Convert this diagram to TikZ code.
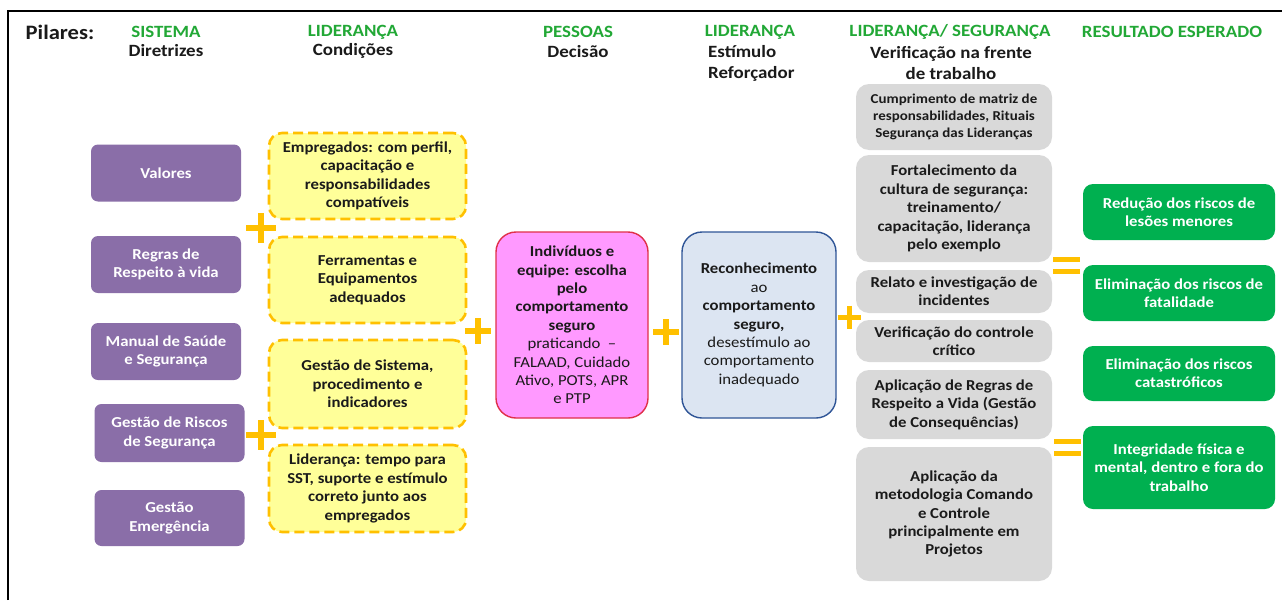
\documentclass[tikz,border=0pt]{standalone}
\usepackage{fontspec}
\setmainfont{Carlito}[FakeStretch=1.1]
\definecolor{purpc}{HTML}{8A6EA8}
\definecolor{yfill}{HTML}{FFFF99}
\definecolor{ybord}{HTML}{FFC000}
\definecolor{pinkf}{HTML}{FF99FF}
\definecolor{pinkb}{HTML}{E0304A}
\definecolor{bluef}{HTML}{DCE5F2}
\definecolor{blueb}{HTML}{2F5597}
\definecolor{grayf}{HTML}{D9D9D9}
\definecolor{greenf}{HTML}{00B050}
\definecolor{hgreen}{HTML}{22A836}
\definecolor{txt}{HTML}{1A1A1A}
\newcommand\plusmark[4]{\draw[ybord, line width=#4pt] (#1-#3/2,#2) -- (#1+#3/2,#2) (#1,#2-#3/2) -- (#1,#2+#3/2);}
\newcommand\eqmark[3]{\draw[ybord, line width=5pt] (#1,#2) -- (#1+27,#2) (#1,#3) -- (#1+27,#3);}
\begin{document}
\begin{tikzpicture}[x=1pt,y=-1pt,
  base/.style={align=center, inner sep=0pt, text=txt, font=\fontsize{15.2}{18.4}\selectfont\bfseries},
  purp/.style={base, fill=purpc, text=white, rounded corners=7pt, minimum width=150pt, minimum height=57pt},
  ybox/.style={base, fill=yfill, draw=ybord, line width=2.6pt, dash pattern=on 10pt off 5pt, rounded corners=13pt, minimum width=197pt},
  pbox/.style={base, fill=pinkf, draw=pinkb, line width=1.4pt, rounded corners=20pt, minimum width=152pt, minimum height=186pt},
  bbox/.style={base, fill=bluef, draw=blueb, line width=1.4pt, rounded corners=20pt, minimum width=154pt, minimum height=186pt},
  gbox/.style={base, fill=grayf, rounded corners=13pt, minimum width=196pt},
  grbox/.style={base, fill=greenf, text=white, rounded corners=10pt, minimum width=192pt},
  hg/.style={inner sep=0pt, text=hgreen, font=\fontsize{17.2}{20}\selectfont\bfseries},
  hb/.style={inner sep=0pt, text=txt, font=\fontsize{17.2}{21}\selectfont\bfseries},
]
\useasboundingbox (0,0) rectangle (1282,600);
\fill[white] (0,0) rectangle (1282,600);
\draw[line width=1.3pt] (8,600) -- (8,11) -- (1282,11);

% headers
\node[hb, font=\fontsize{20.5}{22}\selectfont\bfseries] (pil) at (60,32) {Pilares:};
\node[hg] (h1) at (166,32) {SISTEMA};
\node[hb] (h1b) at (166,51) {Diretrizes};
\node[hg] (h2) at (353,32) {LIDERANÇA};
\node[hb] (h2b) at (353,51) {Condições};
\node[hg] (h3) at (578,32) {PESSOAS};
\node[hb] (h3b) at (578,52) {Decisão};
\node[hg] (h4) at (750,32) {LIDERANÇA};
\node[hb, anchor=west, align=left] (h4b) at (708,63.5) {Estímulo\\Reforçador};
\node[hg] (h5) at (950,32) {LIDERANÇA/ SEGURANÇA};
\node[hb, align=center] (h5b) at (951,63.5) {Verificação na frente\\de trabalho};
\node[hg] (h6) at (1172,32) {RESULTADO ESPERADO};

% purple
\node[purp] (p1) at (166,173) {Valores};
\node[purp] (p2) at (166,264.5) {Regras de\\Respeito à vida};
\node[purp] (p3) at (166,351.5) {Manual de Saúde\\e Segurança};
\node[purp, minimum height=58pt] (p4) at (169.5,433) {Gestão de Riscos\\de Segurança};
\node[purp, minimum height=56pt] (p5) at (169.5,518) {Gestão\\Emergência};

% yellow
\node[ybox, minimum height=86pt] (y1) at (367.5,176) {Empregados: com perfil,\\capacitação e\\responsabilidades\\compatíveis};
\node[ybox, minimum height=86pt] (y2) at (367.5,280) {Ferramentas e\\Equipamentos\\adequados};
\node[ybox, minimum height=88pt] (y3) at (367.5,384) {Gestão de Sistema,\\procedimento e\\indicadores};
\node[ybox, minimum height=87pt] (y4) at (367.5,488.5) {Liderança: tempo para\\SST, suporte e estímulo\\correto junto aos\\empregados};

% pink and blue
\node[pbox] (pk) at (572,325) {Indivíduos e\\equipe: escolha\\pelo\\comportamento\\seguro\\{\mdseries praticando\ \ --}\\{\mdseries FALAAD, Cuidado}\\{\mdseries Ativo, POTS, APR}\\{\mdseries e PTP}};
\node[bbox] (bl) at (759,325) {Reconhecimento\\{\mdseries ao}\\comportamento\\seguro,\\{\mdseries desestímulo ao}\\{\mdseries comportamento}\\{\mdseries inadequado}};

% gray
\node[gbox, minimum height=66pt, font=\fontsize{13.6}{16.7}\selectfont\bfseries] (g1) at (954,117) {Cumprimento de matriz de\\responsabilidades, Rituais\\Segurança das Lideranças};
\node[gbox, minimum height=107pt] (g2) at (954,208.5) {Fortalecimento da\\cultura de segurança:\\treinamento/\\capacitação, liderança\\pelo exemplo};
\node[gbox, minimum height=43pt] (g3) at (954,291.5) {Relato e investigação de\\incidentes};
\node[gbox, minimum height=42pt] (g4) at (954,341) {Verificação do controle\\crítico};
\node[gbox, minimum height=69pt] (g5) at (954,404.5) {Aplicação de Regras de\\Respeito a Vida (Gestão\\de Consequências)};
\node[gbox, minimum height=134pt] (g6) at (954,514) {Aplicação da\\metodologia Comando\\e Controle\\principalmente em\\Projetos};

% green
\node[grbox, minimum height=56pt] (r1) at (1179,212) {Redução dos riscos de\\lesões menores};
\node[grbox, minimum height=56pt] (r2) at (1179,293) {Eliminação dos riscos de\\fatalidade};
\node[grbox, minimum height=55pt] (r3) at (1179,373.5) {Eliminação dos riscos\\catastróficos};
\node[grbox, minimum height=83pt] (r4) at (1179,467.5) {Integridade física e\\mental, dentro e fora do\\trabalho};

% operators
\plusmark{261}{228}{30}{6}
\plusmark{261}{435}{30}{6}
\plusmark{478}{331}{26}{6}
\plusmark{666}{332}{26}{6}
\plusmark{849}{317}{23}{5}
\eqmark{1053}{259}{271}
\eqmark{1054}{441}{453}
\end{tikzpicture}
\end{document}
